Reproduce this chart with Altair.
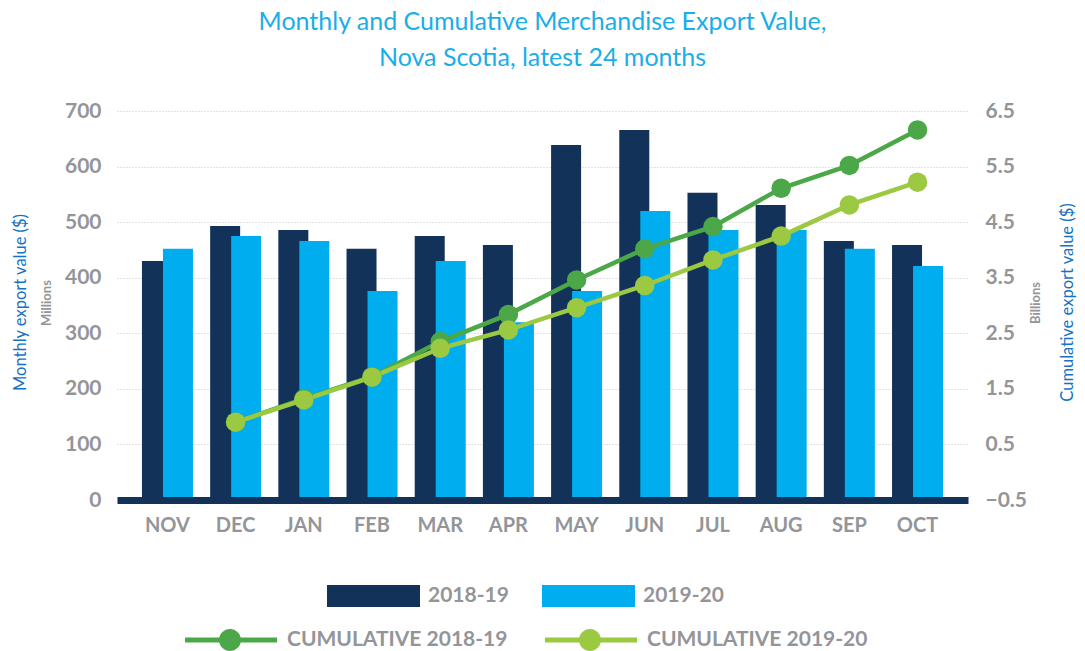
import altair as alt
import pandas as pd

# ---------------- data ----------------
months = ["NOV", "DEC", "JAN", "FEB", "MAR", "APR", "MAY", "JUN", "JUL", "AUG", "SEP", "OCT"]
exports_2018_19 = [430, 493, 486, 452, 475, 459, 639, 666, 553, 531, 466, 459]
exports_2019_20 = [452, 475, 466, 376, 430, 320, 376, 520, 486, 486, 452, 421]
cum_months = ["DEC", "JAN", "FEB", "MAR", "APR", "MAY", "JUN", "JUL", "AUG", "SEP", "OCT"]
cumulative_2018_19 = [0.90, 1.32, 1.72, 2.35, 2.84, 3.46, 4.02, 4.42, 5.11, 5.52, 6.16]
cumulative_2019_20 = [0.90, 1.30, 1.71, 2.23, 2.56, 2.96, 3.36, 3.82, 4.25, 4.81, 5.22]
bar_series = ["2018-19", "2019-20"]
line_series = ["CUMULATIVE 2018-19", "CUMULATIVE 2019-20"]
left_ticks = [0, 100, 200, 300, 400, 500, 600, 700]
right_ticks = [-0.5, 0.5, 1.5, 2.5, 3.5, 4.5, 5.5, 6.5]
title_lines = ["Monthly and Cumulative Merchandise Export Value,",
               "Nova Scotia, latest 24 months"]

bars_df = pd.DataFrame({
    "month": months * 2,
    "series": [bar_series[0]] * len(months) + [bar_series[1]] * len(months),
    "value": exports_2018_19 + exports_2019_20,
})
cum_df = pd.DataFrame({
    "month": cum_months * 2,
    "series": [line_series[0]] * len(cum_months) + [line_series[1]] * len(cum_months),
    "cumulative": cumulative_2018_19 + cumulative_2019_20,
})

# ---------------- style ----------------
FONT = "Lato"
GRAY = "#939598"
NAVY = "#12325a"
LBLUE = "#00aeef"
GREEN = "#4ba747"
LGREEN = "#9bc941"
AXBLUE = "#1572c4"
TITLE = "#19aee8"
W, H = 851, 389

x_enc = alt.X(
    "month:N", sort=months,
    scale=alt.Scale(domain=months, paddingInner=0, paddingOuter=0.24),
    axis=alt.Axis(title=None, labelFont=FONT, labelFontSize=20, labelFontWeight="bold",
                  labelColor=GRAY, labelPadding=15, labelAngle=0, ticks=False,
                  domainColor=NAVY, domainWidth=7, grid=False, zindex=1),
)

y_left = alt.Y(
    "value:Q",
    scale=alt.Scale(domain=[0, 700], nice=False, zero=True),
    axis=alt.Axis(orient="left", values=left_ticks, format="d",
                  title="Monthly export value ($)", titleFont=FONT, titleFontSize=16.5,
                  titleFontWeight="normal", titleColor=AXBLUE, titleAngle=270,
                  titleX=-97, titleY=191, titleAlign="center", titleBaseline="middle",
                  labelFont=FONT, labelFontSize=21, labelFontWeight="bold", labelColor=GRAY,
                  labelPadding=16, ticks=False, domain=False, grid=True,
                  gridColor="#c4c4c4", gridDash=[1, 2], gridWidth=1, zindex=0),
)

y_right = alt.Y(
    "cumulative:Q",
    scale=alt.Scale(domain=[-0.5, 6.5], nice=False, zero=False),
    axis=alt.Axis(orient="right", values=right_ticks, format=".1f",
                  title="Cumulative export value ($)", titleFont=FONT, titleFontSize=16.5,
                  titleFontWeight="normal", titleColor=AXBLUE, titleAngle=270,
                  titleX=99, titleY=191, titleAlign="center", titleBaseline="middle",
                  labelFont=FONT, labelFontSize=21, labelFontWeight="bold", labelColor=GRAY,
                  labelPadding=17, ticks=False, domain=False, grid=False, zindex=0),
)

bar_legend = alt.Legend(
    title=None, orient="none", legendX=210, legendY=474, direction="horizontal",
    symbolType="M-1,-1H7.4545V1H-1Z", symbolSize=484, symbolStrokeWidth=0,
    symbolOpacity=1, labelOffset=79, columnPadding=33, padding=0, labelLimit=400,
    labelFont=FONT, labelFontSize=21, labelFontWeight="bold", labelColor=GRAY,
)
line_legend = alt.Legend(
    title=None, orient="none", legendX=68, legendY=518, direction="horizontal",
    symbolType="M-1,-0.23H7.3636V0.23H-1Z M4.09,0A1,1 0 1,1 2.09,0A1,1 0 1,1 4.09,0Z",
    symbolSize=484, symbolStrokeWidth=0, symbolOpacity=1,
    labelOffset=80, columnPadding=37, padding=0, labelLimit=400,
    labelFont=FONT, labelFontSize=21, labelFontWeight="bold", labelColor=GRAY,
)

bar_color = alt.Color("series:N", scale=alt.Scale(domain=bar_series, range=[NAVY, LBLUE]),
                      legend=bar_legend)
line_color = alt.Color("series:N", scale=alt.Scale(domain=line_series, range=[GREEN, LGREEN]),
                       legend=line_legend)

bar_base = alt.Chart(bars_df)
bar_a = bar_base.transform_filter(alt.datum.series == bar_series[0]).mark_bar(
    width=30, xOffset=-10.5).encode(x=x_enc, y=y_left, color=bar_color)
bar_b = bar_base.transform_filter(alt.datum.series == bar_series[1]).mark_bar(
    width=30, xOffset=10.5).encode(x=x_enc, y=y_left, color=bar_color)
bars = alt.layer(bar_a, bar_b)

line_base = alt.Chart(cum_df)
lines = line_base.mark_line(strokeWidth=4.5).encode(x=x_enc, y=y_right, color=line_color)
dots = line_base.mark_circle(size=380, opacity=1).encode(x=x_enc, y=y_right, color=line_color)
cum_layer = alt.layer(lines, dots)

unit_df = pd.DataFrame({"t": ["Millions", "Billions"]})
millions = alt.Chart(unit_df).transform_filter(alt.datum.t == "Millions").mark_text(
    angle=270, font=FONT, fontSize=13, fontWeight="bold", color=GRAY
).encode(text="t:N", x=alt.value(-70), y=alt.value(192))
billions = alt.Chart(unit_df).transform_filter(alt.datum.t == "Billions").mark_text(
    angle=270, font=FONT, fontSize=13, fontWeight="bold", color=GRAY
).encode(text="t:N", x=alt.value(919), y=alt.value(192))

chart = alt.layer(bars, cum_layer, millions, billions).resolve_scale(
    y="independent", color="independent"
).properties(
    width=W, height=H,
    padding={"left": 117, "top": 111, "right": 117, "bottom": 151},
    autosize=alt.AutoSizeParams(type="none"),
    title=alt.TitleParams(text=title_lines, font=FONT, fontSize=25, fontWeight="normal",
                          color=TITLE, anchor="middle", lineHeight=36, offset=29),
).configure_view(stroke=None)

chart.save("out.html", embed_options={"renderer": "svg", "actions": False})
